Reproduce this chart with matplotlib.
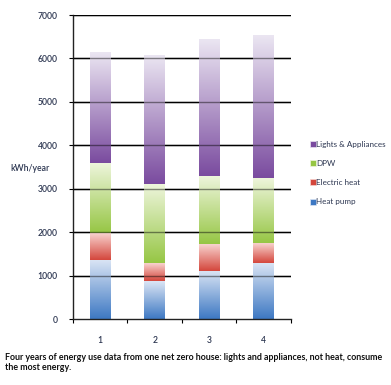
import numpy as np
import matplotlib.pyplot as plt
from matplotlib.colors import LinearSegmentedColormap
from matplotlib.lines import Line2D

# Data (kWh/year)
years = ['1', '2', '3', '4']
heat_pump = [1370, 870, 1110, 1300]
electric_heat = [600, 410, 610, 440]
dpw = [1620, 1820, 1570, 1510]
lights = [2550, 2970, 3140, 3280]

series = ['Heat pump', 'Electric heat', 'DPW', 'Lights & Appliances']
values = [heat_pump, electric_heat, dpw, lights]
# (light top colour, dark bottom colour)
shades = [('#dce6f5', '#3d78c3'),
          ('#f8d3cf', '#d4463c'),
          ('#eff6de', '#96c644'),
          ('#ebe6f2', '#7a4b9f')]

text_col = '#2b3550'
plt.rcParams['font.family'] = ['Lato', 'DejaVu Sans']

fig = plt.figure(figsize=(3.91, 3.85), dpi=100)
ax = fig.add_axes([0.1867, 0.1714, 0.5575, 0.7896])

x = np.arange(len(years))
bottom = np.zeros(len(years))
grad = np.linspace(0, 1, 256).reshape(-1, 1)
for name, vals, (light, dark) in zip(series, values, shades):
    bars = ax.bar(x, vals, width=0.38, bottom=bottom, color='none',
                  edgecolor='none', zorder=2)
    cmap = LinearSegmentedColormap.from_list(name, [dark, light])
    for p in bars.patches:
        x0, y0, w, h = p.get_x(), p.get_y(), p.get_width(), p.get_height()
        ax.imshow(grad, cmap=cmap, origin='lower', aspect='auto',
                  extent=(x0, x0 + w, y0, y0 + h), zorder=2,
                  interpolation='bicubic')
    bottom += np.array(vals)

# gridlines: black behind, translucent over the bars
for yv in range(1000, 8000, 1000):
    ax.axhline(yv, color='black', lw=1.0, zorder=1)
    ax.axhline(yv, color='black', lw=1.0, alpha=0.45, zorder=3)

ax.set_xlim(-0.5, len(years) - 0.5)
ax.set_ylim(0, 7000)
ax.set_yticks(range(0, 8000, 1000))
ax.set_xticks(x)
ax.set_xticklabels(years)
ax.set_xticks(np.arange(-0.5, len(years)), minor=True)
ax.tick_params(axis='x', which='major', length=0, pad=12,
               labelsize=6.2, labelcolor=text_col)
ax.tick_params(axis='x', which='minor', length=3, width=0.8, direction='out')
ax.tick_params(axis='y', length=3, width=0.8, pad=8,
               labelsize=6.2, labelcolor=text_col)
for lbl in ax.get_xticklabels() + ax.get_yticklabels():
    lbl.set_fontweight('semibold')

for s in ['top', 'right']:
    ax.spines[s].set_visible(False)
for s in ['left', 'bottom']:
    ax.spines[s].set_linewidth(1.0)
    ax.spines[s].set_color('#222222')

fig.text(0.026, 0.563, 'kWh/year', fontsize=6.2, color=text_col,
         fontweight='semibold', va='center')

handles = [Line2D([], [], marker='s', ls='none', markersize=4.5,
                  markerfacecolor=d, markeredgecolor=l, markeredgewidth=0.5)
           for l, d in shades]
leg = fig.legend(handles[::-1], series[::-1], loc='center left',
                 bbox_to_anchor=(0.775, 0.55), frameon=False, fontsize=5.8,
                 handlelength=0.6, handletextpad=0.15, labelspacing=1.5,
                 labelcolor=text_col)

fig.text(0.013, 0.083,
         'Four years of energy use data from one net zero house: lights and appliances, not heat, consume\nthe most energy.',
         fontsize=6.4, fontweight='bold', color='#111111', va='top',
         linespacing=1.2)

fig.savefig('out.png', dpi=100)
